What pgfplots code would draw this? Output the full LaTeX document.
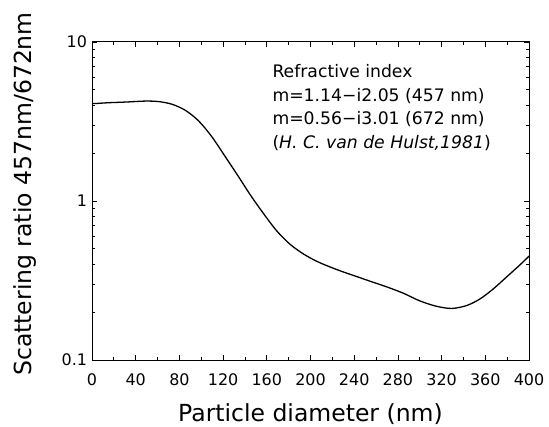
\documentclass[border=0pt]{standalone}
\usepackage{pgfplots}
\pgfplotsset{compat=1.18}
\usepackage{fontspec}
\setmainfont{DejaVu Sans}
\begin{document}
\begin{tikzpicture}
\useasboundingbox (-92bp,-67bp) rectangle (457bp,360bp);
\begin{axis}[
  at={(0,0)}, anchor=south west,
  scale only axis, width=437bp, height=318bp,
  ymode=log, xmin=0, xmax=400, ymin=0.1, ymax=10,
  xtick={0,40,...,400}, minor x tick num=1,
  ytick={0.1,1,10}, yticklabels={0.1,1,10},
  tick align=inside, ticks=both,
  major tick length=5bp, minor tick length=3.5bp,
  every tick/.style={black, line width=0.8pt},
  axis line style={line width=1pt},
  /pgf/number format/assume math mode=true,
  tick label style={font=\fontsize{16}{16}\selectfont},
  xticklabel style={anchor=base, yshift=-25bp},
  yticklabel style={anchor=east, xshift=-1.5bp},
  xlabel={Particle diameter (nm)},
  ylabel={Scattering ratio 457nm/672nm},
  every axis x label/.style={at={(axis description cs:0.5,-0.194)}, anchor=base, font=\fontsize{23.6}{23.6}\selectfont},
  every axis y label/.style={at={(axis description cs:-0.1373,0.522)}, anchor=base, rotate=90, font=\fontsize{23.6}{23.6}\selectfont},
]
\addplot[black, line width=1.3pt, smooth, tension=0.5] coordinates {
(0,4.10) (2.4,4.10) (15,4.15) (30.5,4.19) (48.8,4.25) (61,4.22) (73.2,4.06)
(85.4,3.72) (97.6,3.19) (109.8,2.53) (122,1.90) (134.2,1.42) (145,1.09)
(156.8,0.837) (169,0.650) (181.2,0.535) (193.4,0.465) (205.6,0.418)
(217.8,0.385) (230,0.358) (242.2,0.335) (254.5,0.313) (270,0.288)
(285,0.263) (300,0.2355) (315,0.218) (329.2,0.211) (342.9,0.220)
(355.1,0.242) (367.3,0.280) (379.5,0.333) (391.8,0.397) (400,0.450)
};
\begin{scope}[every node/.style={anchor=base west, inner sep=0pt, font=\fontsize{17.3}{17.3}\selectfont}]
\node at (axis description cs:0.4126,0.8868) {Refractive index};
\node at (axis description cs:0.4126,0.8129) {m=1.14−i2.05 (457 nm)};
\node at (axis description cs:0.4126,0.7390) {m=0.56−i3.01 (672 nm)};
\node at (axis description cs:0.4126,0.6651) {(\textit{H. C. van de Hulst,1981})};
\end{scope}
\end{axis}
\end{tikzpicture}
\end{document}
